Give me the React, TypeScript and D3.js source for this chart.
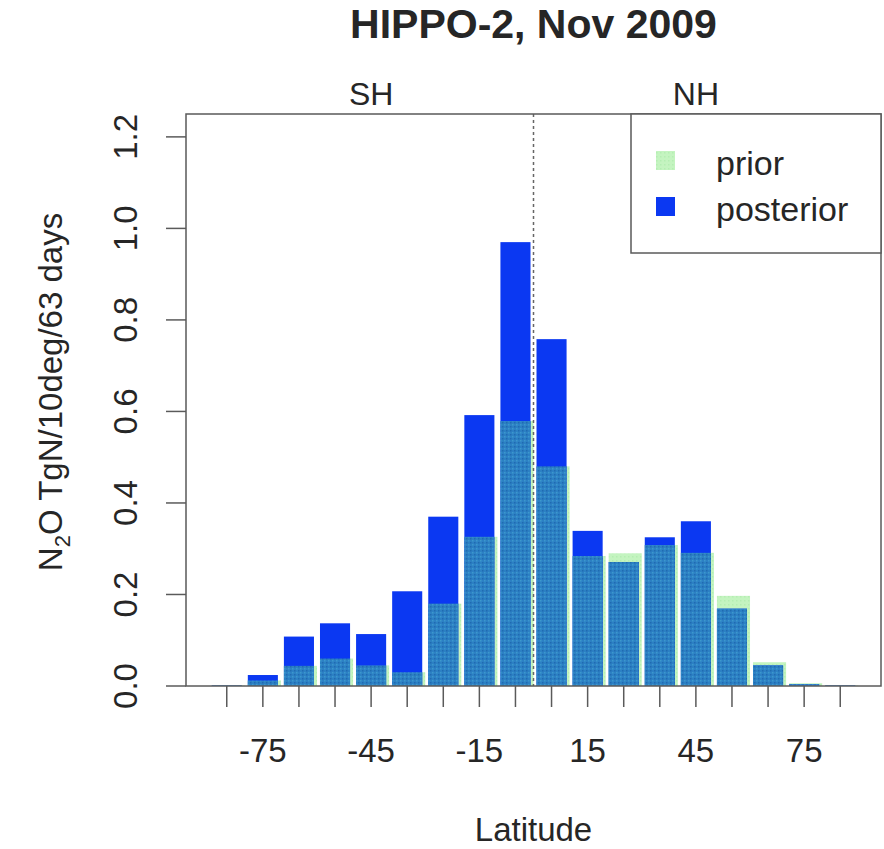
import React from "react";
import * as d3 from "d3";

const latitudes = [-85, -75, -65, -55, -45, -35, -25, -15, -5, 5, 15, 25, 35, 45, 55, 65, 75, 85];
const posterior = [0.001, 0.024, 0.108, 0.137, 0.1135, 0.207, 0.37, 0.592, 0.97, 0.758, 0.339, 0.271, 0.325, 0.36, 0.169, 0.045, 0.004, 0.001];
const prior = [0.001, 0.012, 0.044, 0.06, 0.045, 0.03, 0.18, 0.326, 0.579, 0.48, 0.284, 0.29, 0.308, 0.291, 0.197, 0.052, 0.006, 0.001];
const xTickLabels = [-75, -45, -15, 15, 45, 75];
const yTicks = [0, 0.2, 0.4, 0.6, 0.8, 1.0, 1.2];
const hemiLabels = [
  { text: "SH", lat: -45 },
  { text: "NH", lat: 45 },
];
const legendItems = ["prior", "posterior"];

const W = 884;
const H = 849;
const left = 186;
const right = 881;
const top = 114;
const bottom = 686;

const BLUE = "#0b38f2";
const GREEN = "#c4f4c0";
const TEAL = "#2c80c4";
const AXIS = "#5a5a5a";
const TEXT = "#262626";
const FONT = "'Liberation Sans', Arial, Helvetica, sans-serif";

export default function App() {
  const x = d3
    .scaleBand<number>()
    .domain(latitudes)
    .range([left, right])
    .paddingInner(0.2 / 1.2)
    .paddingOuter(0.713);
  const y = d3.scaleLinear().domain([0, 1.25]).range([bottom, top]);
  const bw = x.bandwidth();
  const cx = (lat: number) => (x(lat) as number) + bw / 2;
  const latToPx = d3
    .scaleLinear()
    .domain([latitudes[0], latitudes[latitudes.length - 1]])
    .range([cx(latitudes[0]), cx(latitudes[latitudes.length - 1])]);

  return (
    <svg width={W} height={H} style={{ display: "block", position: "absolute", left: 0, top: 0, background: "#fff" }}>
      <defs>
        <pattern id="tealPat" width="4" height="4" patternUnits="userSpaceOnUse">
          <rect width="4" height="4" fill={TEAL} />
          <rect x="0" y="0" width="1.5" height="1.5" fill="#3c98cc" />
          <rect x="2" y="2" width="1.5" height="1.5" fill="#1f6bb0" />
        </pattern>
        <pattern id="greenPat" width="4" height="4" patternUnits="userSpaceOnUse">
          <rect width="4" height="4" fill={GREEN} />
          <rect x="0" y="0" width="1.5" height="1.5" fill="#b4eeb2" />
        </pattern>
      </defs>

      <text x={(left + right) / 2} y={38} textAnchor="middle" fontFamily={FONT} fontWeight="bold" fontSize={41} fill={TEXT}>
        HIPPO-2, Nov 2009
      </text>

      {hemiLabels.map((h) => (
        <text key={h.text} x={latToPx(h.lat)} y={105} textAnchor="middle" fontFamily={FONT} fontSize={32} fill={TEXT}>
          {h.text}
        </text>
      ))}

      {latitudes.map((lat, i) => (
        <rect
          key={"pr" + lat}
          x={x(lat) as number}
          y={y(prior[i])}
          width={bw + 3}
          height={bottom - y(prior[i])}
          fill="url(#greenPat)"
        />
      ))}
      {latitudes.map((lat, i) => (
        <rect
          key={"po" + lat}
          x={x(lat) as number}
          y={y(posterior[i])}
          width={bw}
          height={bottom - y(posterior[i])}
          fill={BLUE}
        />
      ))}
      {latitudes.map((lat, i) => {
        const m = Math.min(prior[i], posterior[i]);
        return (
          <rect
            key={"ov" + lat}
            x={x(lat) as number}
            y={y(m)}
            width={bw}
            height={bottom - y(m)}
            fill="url(#tealPat)"
          />
        );
      })}

      <line x1={latToPx(0)} x2={latToPx(0)} y1={top} y2={bottom} stroke="#666" strokeWidth={1.5} strokeDasharray="3,3" />

      <rect x={left} y={top} width={right - left} height={bottom - top} fill="none" stroke={AXIS} strokeWidth={1.5} />

      {yTicks.map((t) => (
        <g key={"yt" + t}>
          <line x1={left - 20} x2={left} y1={y(t)} y2={y(t)} stroke={AXIS} strokeWidth={1.5} />
          <text
            transform={`translate(137, ${y(t)}) rotate(-90)`}
            textAnchor="middle"
            fontFamily={FONT}
            fontSize={33}
            fill={TEXT}
          >
            {t.toFixed(1)}
          </text>
        </g>
      ))}

      {latitudes.map((lat) => (
        <line key={"xt" + lat} x1={cx(lat)} x2={cx(lat)} y1={bottom} y2={bottom + 21} stroke={AXIS} strokeWidth={1.5} />
      ))}
      {xTickLabels.map((lat) => (
        <text key={"xl" + lat} x={cx(lat)} y={762} textAnchor="middle" fontFamily={FONT} fontSize={33} fill={TEXT}>
          {lat}
        </text>
      ))}

      <text x={(left + right) / 2} y={841} textAnchor="middle" fontFamily={FONT} fontSize={33} fill={TEXT}>
        Latitude
      </text>
      <text transform={`translate(62, ${(top + bottom) / 2 - 8}) rotate(-90)`} textAnchor="middle" fontFamily={FONT} fontSize={33} fill={TEXT}>
        N
        <tspan fontSize={22} dy={8}>2</tspan>
        <tspan dy={-8}>O TgN/10deg/63 days</tspan>
      </text>

      <rect x={631} y={top} width={right - 631} height={139} fill="#fff" stroke={AXIS} strokeWidth={1.5} />
      {legendItems.map((name, i) => (
        <g key={name}>
          <rect
            x={656}
            y={151 + i * 46}
            width={19}
            height={19}
            fill={i === 0 ? "url(#greenPat)" : BLUE}
          />
          <text x={716} y={175 + i * 46} fontFamily={FONT} fontSize={34} fill={TEXT}>
            {name}
          </text>
        </g>
      ))}
    </svg>
  );
}
